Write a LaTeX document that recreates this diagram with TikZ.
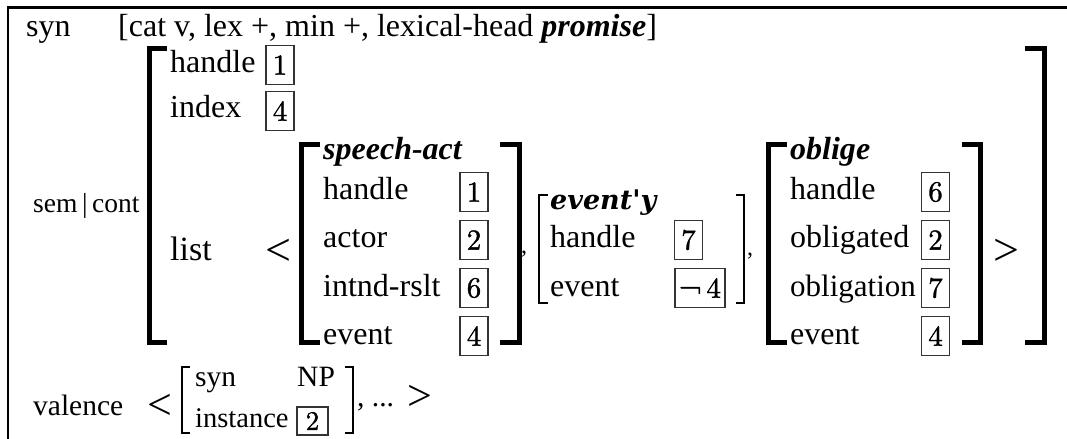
\documentclass[tikz,border=0pt]{standalone}
\usepackage{fontspec}
\setmainfont{Liberation Serif}
\newfontfamily\lmfont{lmroman10-regular.otf}[FakeBold=1.2]
\newfontfamily\evfont{DejaVu Serif}
\begin{document}
\begin{tikzpicture}[x=1bp,y=-1bp,
  lbl/.style={anchor=base west, inner sep=0, font=\fontsize{32bp}{32bp}\selectfont},
  smalllbl/.style={anchor=base west, inner sep=0, font=\fontsize{29.5bp}{29.5bp}\selectfont},
  ang/.style={inner sep=0, font=\fontsize{46bp}{46bp}\selectfont},
  commalbl/.style={anchor=base west, inner sep=0, font=\fontsize{24bp}{24bp}\selectfont},
  tagbox/.style={draw=black!80, line width=1.1bp, minimum width=28bp, minimum height=39bp, inner sep=0, font=\lmfont\fontsize{29bp}{29bp}\selectfont},
  thickbrk/.style={line width=5bp, miter limit=10},
  thinbrk/.style={line width=2bp, miter limit=10},
  framestyle/.style={line width=2.5bp}]
\useasboundingbox (0,0) rectangle (1067,439);
% frame
\draw[framestyle] (8,439) -- (8,7.5) -- (1067,7.5);
% syn row
\node[lbl] (syn) at (26,37) {syn};
\node[lbl] (synval) at (118,37) {[cat v, lex +, min +, lexical-head \textbf{\textit{promise}}]};
% sem|cont
\node[anchor=base west, inner sep=0, font=\fontsize{27.5bp}{27.5bp}\selectfont] (sem) at (33,213) {sem\,|\,cont};
% outer brackets
\draw[thickbrk] (167,49) -- (149,49) -- (149,343) -- (167,343);
\draw[thickbrk] (1025,49) -- (1044,49) -- (1044,343) -- (1025,343);
\node[lbl] (h0) at (170,73) {handle};
\node[tagbox] (b01) at (280,65) {1};
\node[lbl] (i0) at (170,118) {index};
\node[tagbox] (b04) at (280,111) {4};
\node[lbl, font=\fontsize{34bp}{34bp}\selectfont] (list) at (170,261) {list};
\node[ang] (lt) at (278,252) {<};
% speech-act
\draw[thickbrk] (320,145) -- (301,145) -- (301,343) -- (320,343);
\draw[thickbrk] (500,145) -- (519,145) -- (519,343) -- (500,343);
\node[lbl] (sa) at (323,160) {\textbf{\textit{speech-act}}};
\node[lbl] (sa1) at (323,200) {handle};
\node[lbl] (sa2) at (323,248) {actor};
\node[lbl] (sa3) at (323,297) {intnd-rslt};
\node[lbl] (sa4) at (323,345) {event};
\node[tagbox] (sb1) at (474,192) {1};
\node[tagbox] (sb2) at (474,240) {2};
\node[tagbox] (sb3) at (474,288) {6};
\node[tagbox] (sb4) at (474,336) {4};
\node[commalbl] (c1) at (521,254) {,};
% event'y
\draw[thinbrk] (548,195) -- (539,195) -- (539,303) -- (548,303);
\draw[thinbrk] (736,195) -- (744,195) -- (744,303) -- (736,303);
\node[anchor=base west, inner sep=0, font=\evfont\bfseries\itshape\fontsize{27bp}{27bp}\selectfont] (ev) at (550,210) {event\char"27y};
\node[lbl] (ev1) at (550,248) {handle};
\node[lbl] (ev2) at (550,297) {event};
\node[tagbox] (eb1) at (688.5,240) {7};
\node[tagbox, minimum width=50bp] (eb2) at (700,288) {¬\,4};
\node[commalbl] (c2) at (747,256) {,};
% oblige
\draw[thickbrk] (787,145) -- (768,145) -- (768,343) -- (787,343);
\draw[thickbrk] (962,145) -- (980,145) -- (980,343) -- (962,343);
\node[lbl] (ob) at (790,160) {\textbf{\textit{oblige}}};
\node[lbl] (ob1) at (790,200) {handle};
\node[lbl] (ob2) at (790,248) {obligated};
\node[lbl, font=\fontsize{31bp}{31bp}\selectfont] (ob3) at (790,297) {obligation};
\node[lbl] (ob4) at (790,345) {event};
\node[tagbox] (obb1) at (935.5,192) {6};
\node[tagbox] (obb2) at (935.5,240) {2};
\node[tagbox] (obb3) at (935.5,288) {7};
\node[tagbox] (obb4) at (935.5,336) {4};
\node[ang] (gt) at (1006,252) {>};
% valence
\node[smalllbl] (val) at (33,416) {valence};
\node[ang, font=\fontsize{44bp}{44bp}\selectfont] (vlt) at (160,407) {<};
\draw[thinbrk] (190,367) -- (182,367) -- (182,433) -- (190,433);
\draw[thinbrk] (345,367) -- (353,367) -- (353,433) -- (345,433);
\node[smalllbl] (vs) at (195,387) {syn};
\node[smalllbl] (vnp) at (297,387) {NP};
\node[smalllbl, font=\fontsize{28.5bp}{28.5bp}\selectfont] (vi) at (195,427) {instance};
\node[tagbox, minimum width=31bp, minimum height=28bp, font=\lmfont\fontsize{27bp}{27bp}\selectfont] (vb) at (312.5,421) {2};
\node[smalllbl] (vdots) at (357,407) {, ...};
\node[ang, font=\fontsize{44bp}{44bp}\selectfont] (vgt) at (420,398) {>};
\end{tikzpicture}
\end{document}
